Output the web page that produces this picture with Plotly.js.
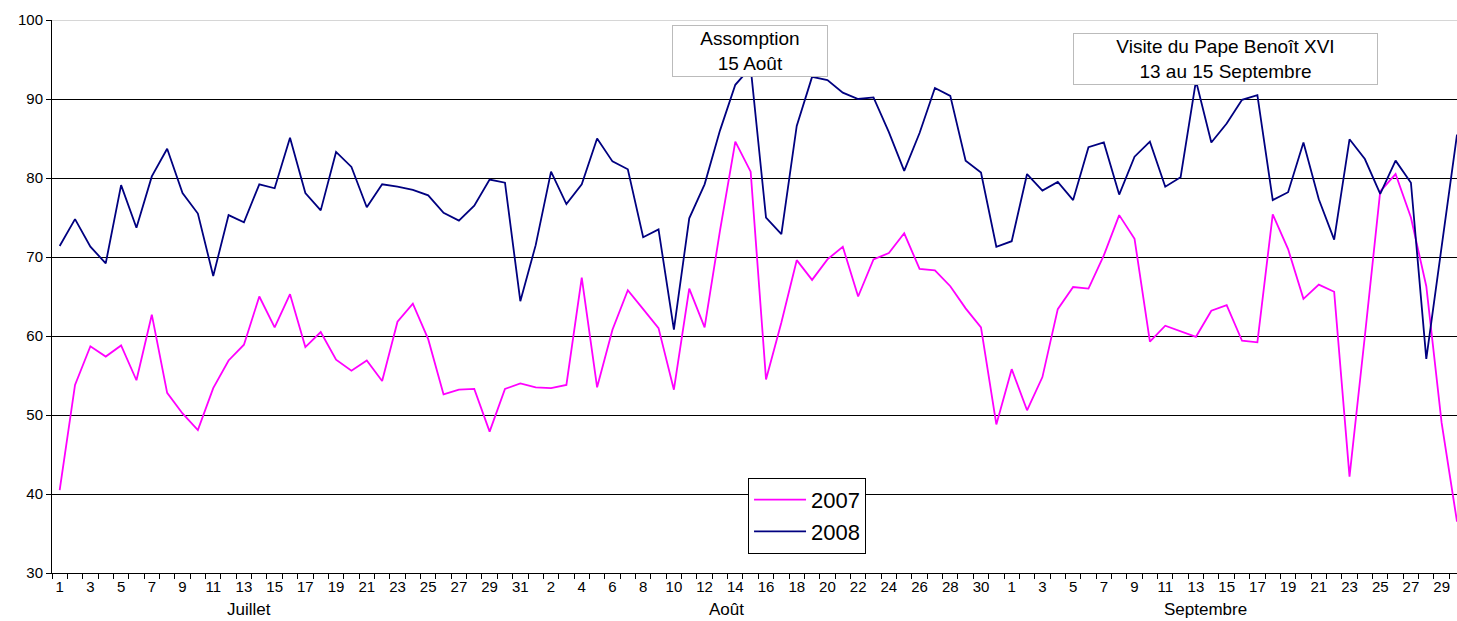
<!DOCTYPE html>
<html>
<head>
<meta charset="utf-8">
<script src="https://cdn.plot.ly/plotly-3.0.1.min.js"></script>
<style>html,body{margin:0;padding:0;background:#fff;}#chart{width:1457px;height:621px;}</style>
</head>
<body>
<div id="chart"></div>
<script>
// Day-of-month labels: July (31), August (31), September (30)
const julyDays = Array.from({length:31},(_,i)=>i+1);
const augDays  = Array.from({length:31},(_,i)=>i+1);
const septDays = Array.from({length:30},(_,i)=>i+1);
const dayLabels = [...julyDays, ...augDays, ...septDays];
const months = ["Juillet", "Août", "Septembre"];
const monthLabelPos = [12.3, 43.4, 74.6];

const series2007 = [
  40.5,53.8,58.7,57.4,58.8,54.4,62.7,52.8,50.2,48.1,53.4,56.9,58.9,65.0,61.1,65.3,58.6,60.5,57.0,55.6,56.9,54.3,61.8,64.1,59.6,52.6,53.2,53.3,47.9,53.3,54.0,
  53.5,53.4,53.8,67.4,53.5,60.8,65.8,63.4,61.0,53.2,66.0,61.1,73.3,84.6,80.8,54.5,61.7,69.6,67.1,69.7,71.3,65.0,69.7,70.5,73.0,68.5,68.3,66.3,63.5,61.1,48.8,
  55.8,50.6,54.8,63.4,66.2,66.0,70.2,75.3,72.3,59.3,61.3,60.6,59.9,63.2,63.9,59.4,59.2,75.4,71.0,64.7,66.5,65.6,42.2,60.0,78.3,80.5,75.0,66.3,49.0,36.5
];
const series2008 = [
  71.4,74.8,71.3,69.2,79.1,73.7,80.2,83.7,78.1,75.5,67.6,75.3,74.4,79.2,78.7,85.1,78.1,75.9,83.3,81.4,76.3,79.2,78.9,78.5,77.8,75.6,74.6,76.5,79.8,79.4,64.4,
  71.5,80.8,76.7,79.2,85.0,82.1,81.1,72.5,73.5,60.8,74.9,79.2,86.0,91.8,94.0,75.0,72.9,86.6,92.8,92.4,90.8,90.0,90.2,85.8,80.9,85.7,91.4,90.4,82.2,80.7,71.3,
  72.0,80.5,78.4,79.5,77.2,83.9,84.5,77.9,82.7,84.6,78.9,80.1,92.3,84.5,86.9,89.9,90.5,77.2,78.2,84.5,77.3,72.2,84.9,82.4,78.0,82.2,79.4,57.1,71.3,85.5
];
const seriesNames = ["2007", "2008"];
const notes = ["Assomption<br>15 Août", "Visite du Pape Benoît XVI<br>13 au 15 Septembre"];

const xIdx = dayLabels.map((_,i)=>i);
const tickIdx = xIdx.filter(i=>i%2===0);
const tickTxt = tickIdx.map(i=>String(dayLabels[i]));

const FONT = "Liberation Sans, Arial, sans-serif";

const traces = [
  {x:xIdx, y:series2007, type:'scatter', mode:'lines', name:seriesNames[0],
   line:{color:'#FF00FF', width:1.8}},
  {x:xIdx, y:series2008, type:'scatter', mode:'lines', name:seriesNames[1],
   line:{color:'#000080', width:1.8}}
];

const annotations = [
  {xref:'paper', yref:'paper', x:0.497, y:0.991, xanchor:'center', yanchor:'top',
   text:notes[0], showarrow:false, align:'center',
   font:{family:FONT, size:19, color:'#000'},
   bgcolor:'#fff', bordercolor:'#bbb', borderwidth:1, borderpad:2, width:150},
  {xref:'paper', yref:'paper', x:0.835, y:0.977, xanchor:'center', yanchor:'top',
   text:notes[1], showarrow:false, align:'center',
   font:{family:FONT, size:19, color:'#000'},
   bgcolor:'#fff', bordercolor:'#bbb', borderwidth:1, borderpad:2, width:299}
];
months.forEach((m,k)=>{
  annotations.push({xref:'x', yref:'paper', x:monthLabelPos[k], y:-0.086, xanchor:'center', yanchor:'bottom',
    text:m, showarrow:false, font:{family:FONT, size:17, color:'#000'}});
});

const layout = {
  width:1457, height:621,
  margin:{l:52, r:0, t:20, b:48},
  paper_bgcolor:'#fff', plot_bgcolor:'#fff',
  font:{family:FONT, color:'#000'},
  showlegend:true,
  legend:{x:0.4954, y:0.172, xanchor:'left', yanchor:'top',
    bgcolor:'#fff', bordercolor:'#000', borderwidth:1,
    font:{family:FONT, size:22, color:'#000'}, itemwidth:52, tracegroupgap:0},
  xaxis:{range:[-0.5, 91], tickmode:'array', tickvals:tickIdx, ticktext:tickTxt,
    ticks:'', showgrid:false, zeroline:false, showline:true, linecolor:'#000', linewidth:1,
    tickfont:{family:FONT, size:15, color:'#000'},
    minor:{tickmode:'linear', tick0:-0.5, dtick:1, ticks:'outside', ticklen:5, tickcolor:'#000', tickwidth:1, showgrid:false},
    fixedrange:true},
  yaxis:{range:[30,100], tickmode:'linear', tick0:30, dtick:10,
    ticks:'outside', ticklen:5, tickcolor:'#000',
    showgrid:true, gridcolor:'#000', gridwidth:1, zeroline:false,
    showline:true, linecolor:'#000', linewidth:1,
    tickfont:{family:FONT, size:15, color:'#000'}, fixedrange:true},
  shapes:[
    {type:'line', xref:'paper', yref:'y', x0:0, x1:1, y0:100, y1:100, line:{color:'#c8c8c8', width:1.5}, layer:'above'}
  ],
  annotations:annotations
};

Plotly.newPlot('chart', traces, layout, {displayModeBar:false, staticPlot:true});
</script>
</body>
</html>
